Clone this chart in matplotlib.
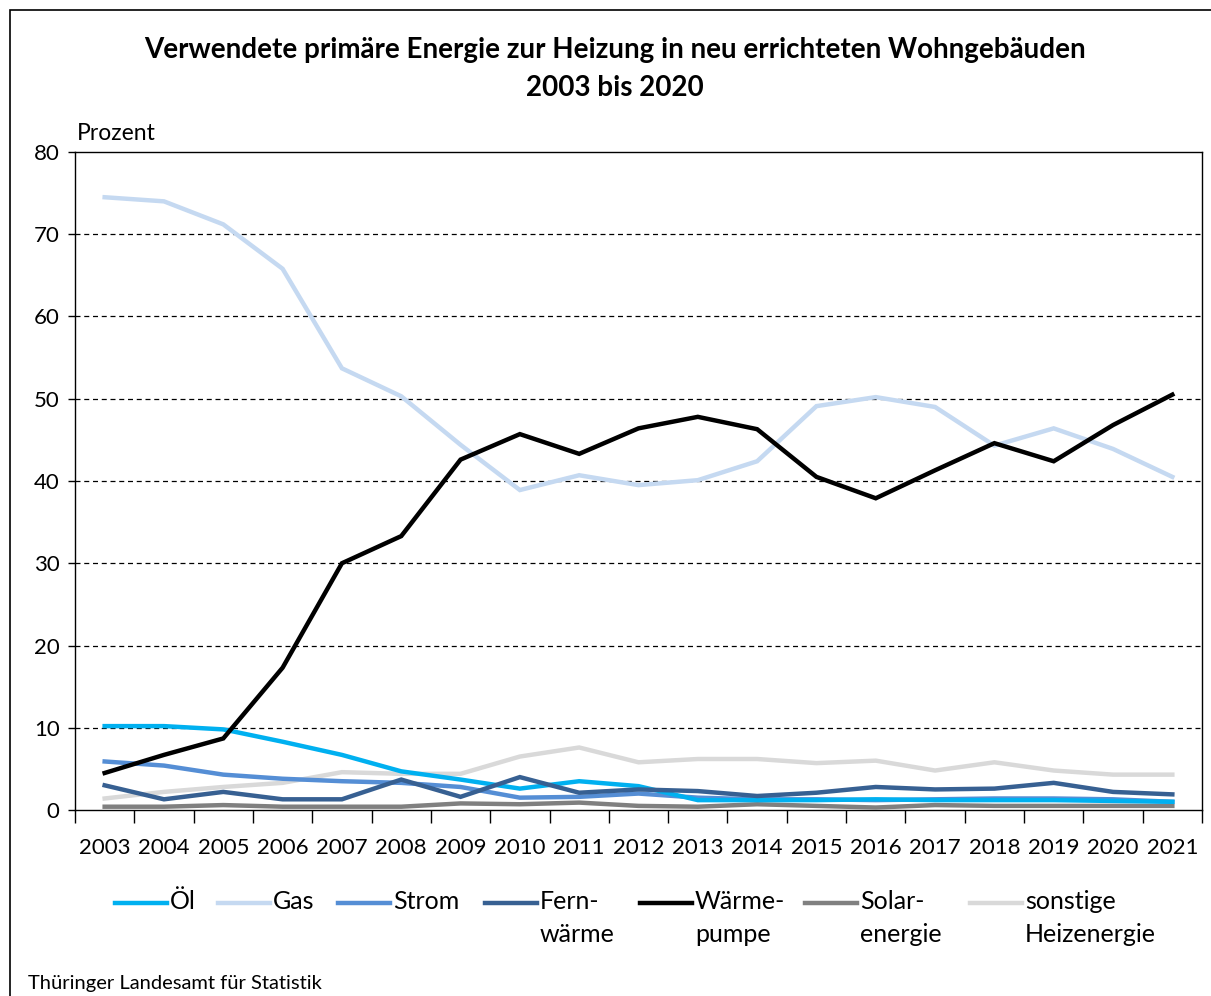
import matplotlib.pyplot as plt
from matplotlib.lines import Line2D
from matplotlib.patches import Rectangle

plt.rcParams['font.family'] = ['Lato', 'DejaVu Sans']

# Daten (Prozent)
years = list(range(2003, 2022))
oel = [10.2, 10.2, 9.8, 8.3, 6.7, 4.7, 3.7, 2.6, 3.5, 2.9, 1.2, 1.2, 1.2, 1.3, 1.2, 1.2, 1.2, 1.1, 1.0]
gas = [74.5, 74.0, 71.2, 65.8, 53.7, 50.3, 44.4, 38.9, 40.7, 39.5, 40.1, 42.4, 49.1, 50.2, 49.0, 44.3, 46.4, 43.9, 40.5]
strom = [5.9, 5.4, 4.3, 3.8, 3.5, 3.3, 2.8, 1.5, 1.6, 2.0, 1.5, 1.3, 1.3, 1.2, 1.3, 1.4, 1.4, 1.3, 1.0]
fernwaerme = [3.0, 1.3, 2.2, 1.3, 1.3, 3.7, 1.6, 4.0, 2.1, 2.5, 2.3, 1.7, 2.1, 2.8, 2.5, 2.6, 3.3, 2.2, 1.9]
waermepumpe = [4.5, 6.7, 8.7, 17.3, 30.0, 33.3, 42.6, 45.7, 43.3, 46.4, 47.8, 46.3, 40.5, 37.9, 41.3, 44.6, 42.4, 46.8, 50.5]
solar = [0.4, 0.4, 0.6, 0.4, 0.4, 0.4, 0.8, 0.7, 0.9, 0.5, 0.4, 0.7, 0.5, 0.3, 0.6, 0.5, 0.5, 0.5, 0.5]
sonstige = [1.4, 2.2, 2.8, 3.3, 4.6, 4.4, 4.4, 6.5, 7.6, 5.8, 6.2, 6.2, 5.7, 6.0, 4.8, 5.8, 4.8, 4.3, 4.3]

series = [
    ("Öl", oel, "#00B0F0"),
    ("Gas", gas, "#C5D9F1"),
    ("Strom", strom, "#558ED5"),
    ("Fern-\nwärme", fernwaerme, "#376092"),
    ("Wärme-\npumpe", waermepumpe, "#000000"),
    ("Solar-\nenergie", solar, "#808080"),
    ("sonstige\nHeizenergie", sonstige, "#D9D9D9"),
]
# Zeichenreihenfolge wie im Original
draw_order = [1, 6, 5, 2, 0, 3, 4]

W, H = 1211, 996
fig = plt.figure(figsize=(W / 100, H / 100), dpi=100)
ax = fig.add_axes([75 / W, 1 - 810 / H, (1202 - 75) / W, (810 - 152) / H])

x = list(range(len(years)))
for i in draw_order:
    name, vals, col = series[i]
    ax.plot(x, vals, color=col, lw=3.2, solid_joinstyle='miter', zorder=3)

ax.set_xlim(-0.5, len(years) - 0.5)
ax.set_ylim(0, 80)
ax.set_yticks(range(0, 81, 10))
ax.set_xticks(x)
ax.set_xticklabels([str(y) for y in years], fontsize=16)
ax.set_xticks([i - 0.5 for i in range(len(years) + 1)], minor=True)
ax.tick_params(axis='x', which='major', length=0, pad=20)
ax.tick_params(axis='x', which='minor', length=9, width=1, direction='out')
ax.tick_params(axis='y', labelsize=16, length=5, width=1, direction='out', pad=6)
for yv in range(10, 80, 10):
    ax.axhline(yv, color='black', lw=0.9, ls=(0, (4, 3)), zorder=1)
for s in ax.spines.values():
    s.set_color('black')
    s.set_linewidth(1)

fig.text(77 / W, 1 - 133 / H, "Prozent", fontsize=16.5, va='center', ha='left')
fig.text(615 / W, 1 - 50 / H, "Verwendete primäre Energie zur Heizung in neu errichteten Wohngebäuden",
         fontsize=20, fontweight='bold', ha='center', va='center')
fig.text(615 / W, 1 - 88 / H, "2003 bis 2020", fontsize=20, fontweight='bold', ha='center', va='center')
fig.text(28 / W, 1 - 983 / H, "Thüringer Landesamt für Statistik", fontsize=14.5, ha='left', va='center')

# Legende
leg_x = [115, 218, 338, 485, 640, 805, 970]
for (name, vals, col), lx in zip(series, leg_x):
    fig.add_artist(Line2D([lx / W, (lx + 52) / W], [1 - 903 / H, 1 - 903 / H],
                          color=col, lw=3.2, transform=fig.transFigure))
    fig.text((lx + 55) / W, 1 - 890 / H, name, fontsize=18, ha='left', va='top', linespacing=1.55)

# Rahmen
fig.add_artist(Rectangle((10 / W, -0.02), 1.1, 1 - 10 / H + 0.02, fill=False,
                         edgecolor='black', lw=1.2, transform=fig.transFigure))

fig.savefig("out.png", dpi=100)
